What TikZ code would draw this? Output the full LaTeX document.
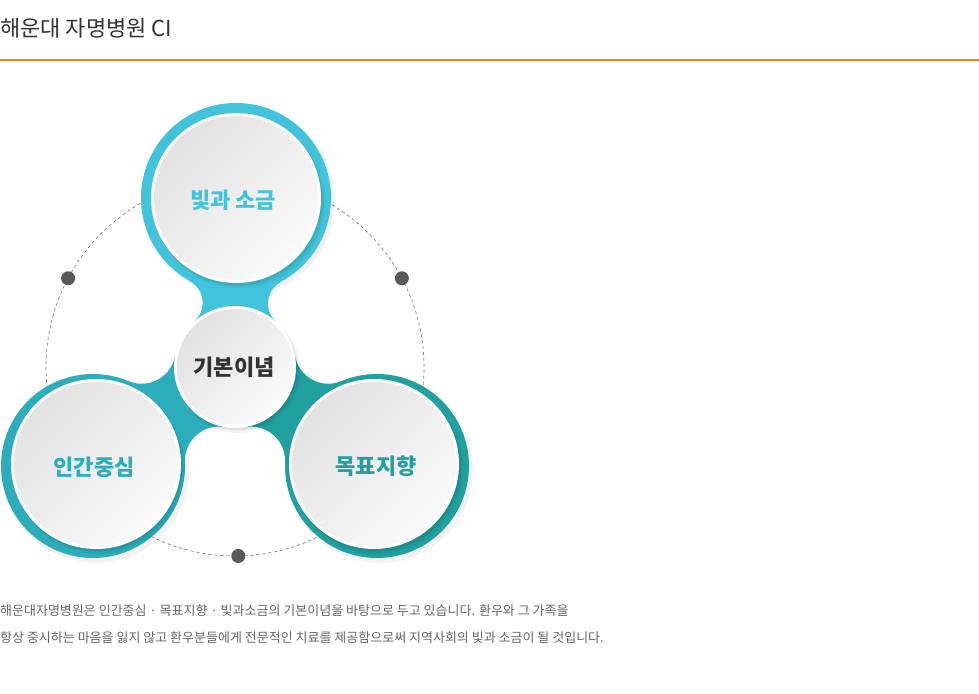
\documentclass[tikz,border=0pt]{standalone}
\usepackage{fontspec}
\setmainfont{Noto Sans CJK KR}
\usepackage{xcolor}
\usetikzlibrary{positioning}

\definecolor{skyring}{HTML}{41C4DB}
\definecolor{humanring}{HTML}{2BADBB}
\definecolor{goalring}{HTML}{21A0A0}
\definecolor{titlegray}{HTML}{333333}
\definecolor{bodygray}{HTML}{666666}
\definecolor{lineorange}{HTML}{F27F1B}
\definecolor{dotgray}{HTML}{5A5A5A}
\definecolor{discdark}{HTML}{E2E2E2}
\definecolor{disclight}{HTML}{FAFAFA}

\tikzset{
  dotmark/.style={circle, fill=dotgray, inner sep=0pt, minimum size=14pt},
  bigword/.style={font=\fontsize{22}{26}\selectfont\bfseries, inner sep=0pt},
  bodyline/.style={anchor=base west, inner sep=0pt, text=bodygray, font=\fontsize{13}{15}\selectfont}
}

% neck between the centre disc and one outer ring: colour, direction, distance, ring radius, fillet radius
\newcommand{\neck}[5]{%
  \begin{scope}[shift={(cen)}, rotate=#2-90]
    \pgfmathsetmacro{\fy}{#3/2+(61-#4)*(61+#4+2*#5)/(2*#3)}
    \pgfmathsetmacro{\fx}{sqrt((61+#5)*(61+#5)-\fy*\fy)}
    \pgfmathsetmacro{\bq}{atan2(\fy,\fx)}
    \pgfmathsetmacro{\ea}{atan2(#3-\fy,-\fx)}
    \fill[#1] ({\fx+#5*cos(180+\bq)},{\fy+#5*sin(180+\bq)})
      arc[start angle=180+\bq, end angle=\ea, radius=#5]
      -- ({-\fx+#5*cos(180-\ea)},{\fy+#5*sin(180-\ea)})
      arc[start angle=180-\ea, end angle=-\bq, radius=#5] -- cycle;
  \end{scope}}

% white disc with rim and shadow: x, y, radius
\newcommand{\disc}[3]{%
  \fill[black, opacity=.05] (#1+3,#2-4) circle (#3+1);
  \fill[black, opacity=.08] (#1+1.5,#2-2.5) circle (#3);
  \fill[white] (#1,#2) circle (#3);
  \shade[top color=discdark, bottom color=disclight, shading angle=45] (#1,#2) circle (#3-3);}

\begin{document}
\begin{tikzpicture}[x=1pt, y=1pt]
    \fill[white] (0,0) rectangle (979,693);
    \useasboundingbox (0,0) rectangle (979,693);

    \node[anchor=base west, inner sep=0pt, text=titlegray, font=\fontsize{22}{26}\selectfont] (title) at (0,656) {해운대 자명병원 CI};
    \draw[lineorange, line width=1.2pt] (0,633) -- (979,633);

    \coordinate (cen) at (235,326);
    \draw[gray, line width=.7pt, dash pattern=on 3pt off 3pt] (cen) circle (189);
    \node[dotmark] (dot1) at ([shift={(152:189)}]cen) {};
    \node[dotmark] (dot2) at ([shift={(28:189)}]cen) {};
    \node[dotmark] (dot3) at ([shift={(271:189)}]cen) {};

    % rings and necks
    \fill[black, opacity=.05] (239,492) circle (96);
    \fill[black, opacity=.05] (96,223) circle (93);
    \fill[black, opacity=.05] (380,223) circle (93);
    \neck{skyring}{89.7}{169}{95}{25}
    \neck{humanring}{214.9}{173.1}{92}{34}
    \neck{goalring}{325.1}{173.1}{92}{34}
    \fill[skyring] (236,495) circle (95);
    \fill[humanring] (93,227) circle (92);
    \fill[goalring] (377,227) circle (92);

    \disc{236}{495}{85}
    \disc{96}{229}{85}
    \disc{374}{229}{85}
    \disc{235}{326}{61}

    \node[bigword, text=skyring] (salt) at (233,493) {빛과 소금};
    \node[bigword, text=titlegray] (idea) at (234,326) {기본이념};
    \node[bigword, text=humanring] (human) at (94,226) {인간중심};
    \node[bigword, text=goalring] (goal) at (376,227) {목표지향};

    \node[bodyline] (para1) at (0,77) {해운대자명병원은 인간중심 · 목표지향 · 빛과소금의 기본이념을 바탕으로 두고 있습니다. 환우와 그 가족을};
    \node[bodyline] (para2) at (0,51) {항상 중시하는 마음을 잃지 않고 환우분들에게 전문적인 치료를 제공함으로써 지역사회의 빛과 소금이 될 것입니다.};
\end{tikzpicture}
\end{document}
